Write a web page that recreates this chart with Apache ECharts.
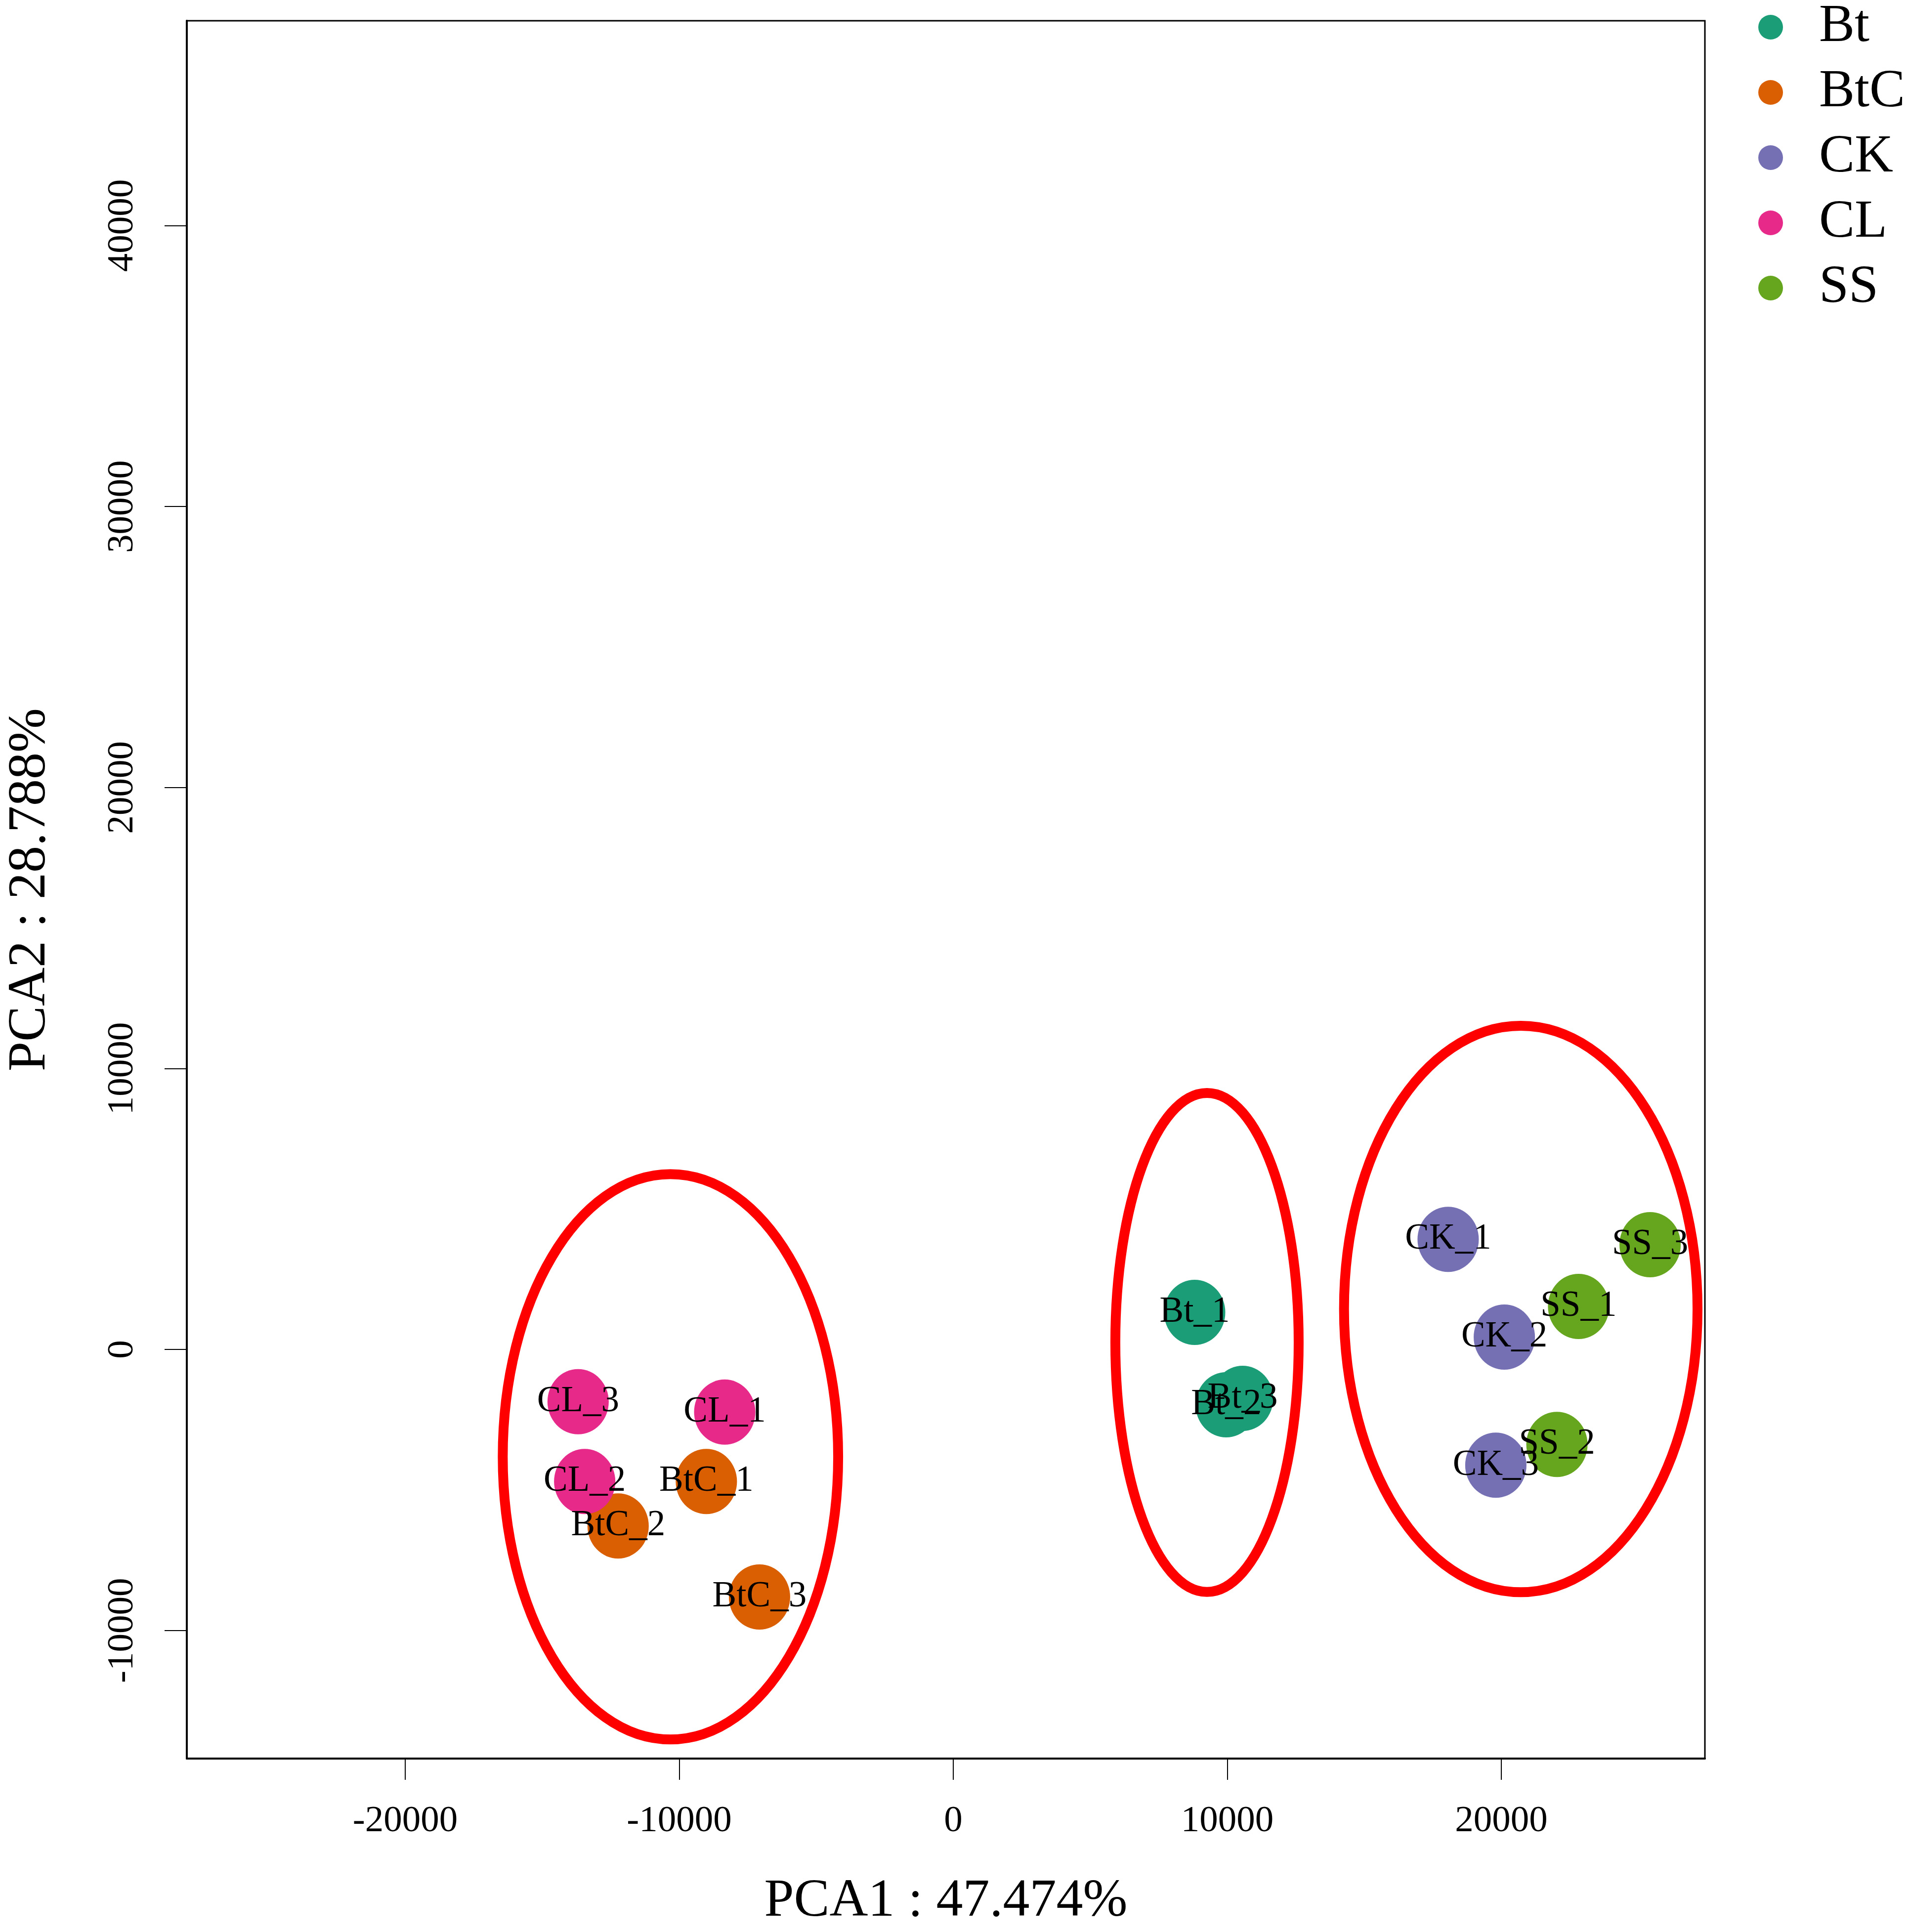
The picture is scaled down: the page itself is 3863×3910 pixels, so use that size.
<!DOCTYPE html>
<html>
<head>
<meta charset="utf-8">
<title>PCA</title>
<script src="https://cdn.jsdelivr.net/npm/echarts@6.0.0/dist/echarts.min.js"></script>
<style>
    html, body { margin: 0; padding: 0; background: #ffffff; }
    #pca-chart { width: 3863px; height: 3910px; }
</style>
</head>
<body>
<div id="pca-chart"></div>
<script>
// Groups and their colours (legend order)
var groups = ['Bt', 'BtC', 'CK', 'CL', 'SS'];
var groupColors = ['#1B9E77', '#D95F02', '#7570B3', '#E7298A', '#66A61E'];

// Samples
var sampleNames = ['Bt_1', 'Bt_2', 'Bt_3', 'BtC_1', 'BtC_2', 'BtC_3', 'CK_1', 'CK_2', 'CK_3', 'CL_1', 'CL_2', 'CL_3', 'SS_1', 'SS_2', 'SS_3'];
var sampleGroup = ['Bt', 'Bt', 'Bt', 'BtC', 'BtC', 'BtC', 'CK', 'CK', 'CK', 'CL', 'CL', 'CL', 'SS', 'SS', 'SS'];
var pca1 = [8810, 9960, 10560, -9010, -12230, -7070, 18060, 20110, 19800, -8340, -13450, -13690, 22820, 22030, 25430];
var pca2 = [1320, -1970, -1740, -4700, -6280, -8810, 3920, 440, -4120, -2230, -4700, -1860, 1530, -3380, 3730];

// Hand-drawn red ellipses (centre and radii, data units)
var ellipseCx = [-10320, 9260, 20710];
var ellipseCy = [-3820, 250, 1440];
var ellipseRx = [6120, 3345, 6450];
var ellipseRy = [10060, 8880, 10080];

// Axis ticks
var xTicks = [-20000, -10000, 0, 10000, 20000];
var yTicks = [-10000, 0, 10000, 20000, 30000, 40000];

(function() {
    'use strict';

    var serifFont = '"Liberation Serif", "Times New Roman", serif';
    var chart = echarts.init(document.getElementById('pca-chart'), null, { renderer: 'canvas', devicePixelRatio: 1 });

    function plainNumber(value) {
        return String(value);
    }

    function buildSeries() {
        var series = groups.map(function(g, gi) {
            var pts = [];
            for (var i = 0; i < sampleNames.length; i++) {
                if (sampleGroup[i] === g) {
                    pts.push({ name: sampleNames[i], value: [pca1[i], pca2[i]] });
                }
            }
            return {
                name: g,
                type: 'scatter',
                data: pts,
                symbol: 'circle',
                symbolSize: [124, 132],
                itemStyle: { color: groupColors[gi], opacity: 1 },
                label: {
                    show: true,
                    position: 'inside',
                    formatter: '{b}',
                    color: '#000000',
                    fontFamily: serifFont,
                    fontSize: 73
                },
                z: 3
            };
        });

        var ellipses = [];
        for (var k = 0; k < ellipseCx.length; k++) {
            ellipses.push([ellipseCx[k], ellipseCy[k], ellipseRx[k], ellipseRy[k]]);
        }

        series.push({
            name: 'clusters',
            type: 'custom',
            data: ellipses,
            encode: { x: 0, y: 1 },
            silent: true,
            z: 4,
            renderItem: function(params, api) {
                var c = api.coord([api.value(0), api.value(1)]);
                var r = api.size([api.value(2), api.value(3)]);
                return {
                    type: 'ellipse',
                    shape: { cx: c[0], cy: c[1], rx: r[0], ry: r[1] },
                    style: { fill: 'none', stroke: '#FF0000', lineWidth: 20 }
                };
            }
        });
        return series;
    }

    var option = {
        animation: false,
        backgroundColor: '#ffffff',
        textStyle: { fontFamily: serifFont },
        grid: {
            left: 368,
            right: 413,
            top: 42,
            bottom: 351,
            show: true,
            borderColor: '#000000',
            borderWidth: 3
        },
        legend: {
            data: groups,
            orient: 'vertical',
            left: 3553,
            top: -4,
            icon: 'circle',
            itemWidth: 50,
            itemHeight: 50,
            itemGap: 24,
            textStyle: {
                color: '#000000',
                fontFamily: serifFont,
                fontSize: 108,
                padding: [0, 0, 0, 68]
            }
        },
        xAxis: {
            type: 'value',
            min: -27970,
            max: 27430,
            name: 'PCA1 : 47.474%',
            nameLocation: 'middle',
            nameGap: 236,
            nameTextStyle: { color: '#000000', fontFamily: serifFont, fontSize: 108 },
            axisLine: { show: true, onZero: false, lineStyle: { color: '#000000', width: 4 } },
            axisTick: { show: true, length: 43, customValues: xTicks, lineStyle: { color: '#000000', width: 2 } },
            axisLabel: { customValues: xTicks, formatter: plainNumber, margin: 90, color: '#000000', fontFamily: serifFont, fontSize: 75 },
            splitLine: { show: false }
        },
        yAxis: {
            type: 'value',
            min: -14560,
            max: 47290,
            name: 'PCA2 : 28.788%',
            nameLocation: 'middle',
            nameGap: 262,
            nameTextStyle: { color: '#000000', fontFamily: serifFont, fontSize: 108 },
            axisLine: { show: true, onZero: false, lineStyle: { color: '#000000', width: 4 } },
            axisTick: { show: true, length: 45, customValues: yTicks, lineStyle: { color: '#000000', width: 2 } },
            axisLabel: { customValues: yTicks, formatter: plainNumber, rotate: 90, margin: 92, color: '#000000', fontFamily: serifFont, fontSize: 75 },
            splitLine: { show: false }
        },
        series: buildSeries()
    };

    chart.setOption(option);
})();
</script>
</body>
</html>
